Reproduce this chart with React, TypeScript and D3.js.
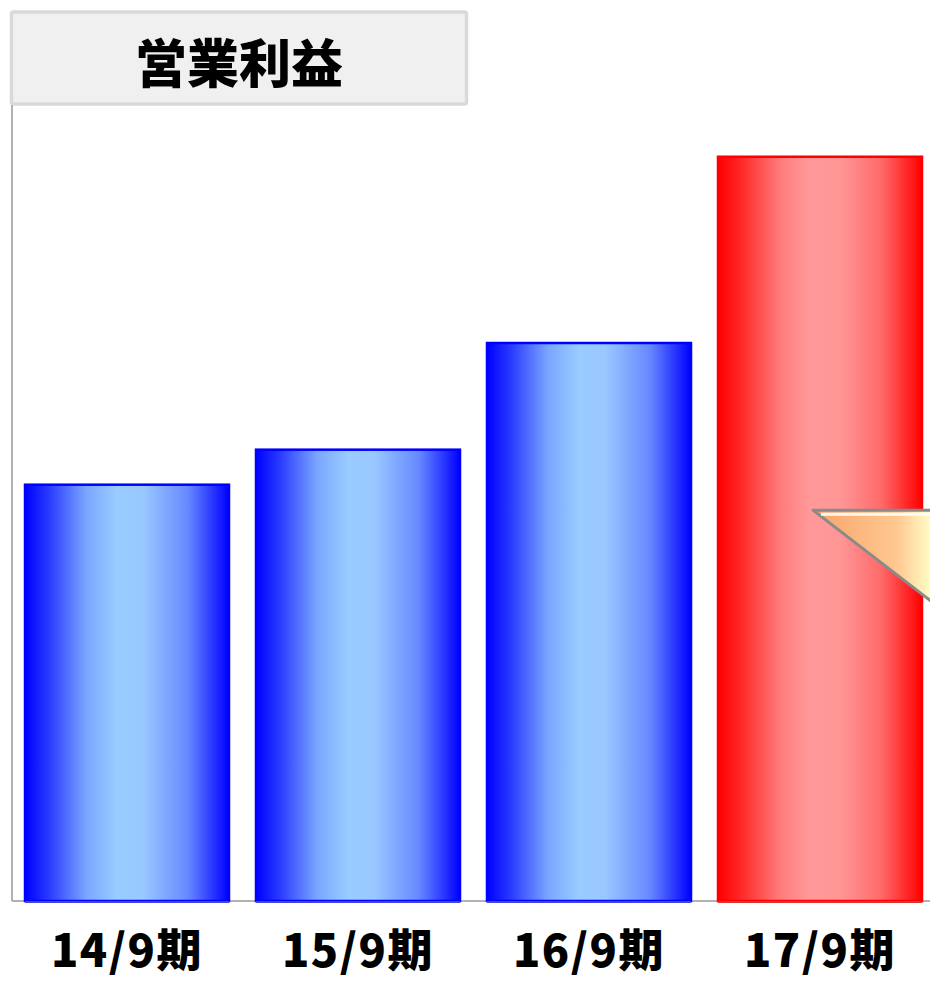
import React from "react";
import * as d3 from "d3";

const categories = ["14/9期", "15/9期", "16/9期", "17/9期"];
const values = [52.3, 56.7, 70.1, 93.5];
const highlight = [false, false, false, true];
const title = "営業利益";

const W = 930;
const H = 982;
const left = 12;
const right = 935;
const top = 105;
const bottom = 901;

export default function App() {
  const x = d3
    .scaleBand<string>()
    .domain(categories)
    .range([left, right])
    .paddingInner(27 / 231)
    .paddingOuter(13 / 231);
  const y = d3.scaleLinear().domain([0, 100]).range([bottom, top]);

  const last = categories[categories.length - 1];
  const ax = (x(last) as number) + 95;
  const ay = y(49.1);
  const arrowPath = d3.path();
  arrowPath.moveTo(ax, ay);
  arrowPath.lineTo(ax + 140, ay);
  arrowPath.lineTo(ax + 140, ay + 108);
  arrowPath.closePath();

  const font = "'Noto Sans CJK JP', 'Noto Sans', sans-serif";

  return (
    <svg
      width={W}
      height={H}
      style={{ position: "absolute", left: 0, top: 0, background: "#fff" }}
    >
      <defs>
        <linearGradient id="gBlue" x1="0" x2="1" y1="0" y2="0">
          <stop offset="0" stopColor="#0000ff" />
          <stop offset="0.12" stopColor="#2a3cff" />
          <stop offset="0.3" stopColor="#7aa6ff" />
          <stop offset="0.45" stopColor="#99ccff" />
          <stop offset="0.58" stopColor="#99c8ff" />
          <stop offset="0.8" stopColor="#6688ff" />
          <stop offset="1" stopColor="#0000ff" />
        </linearGradient>
        <linearGradient id="gRed" x1="0" x2="1" y1="0" y2="0">
          <stop offset="0" stopColor="#ff0000" />
          <stop offset="0.12" stopColor="#ff2a2a" />
          <stop offset="0.3" stopColor="#ff7a7a" />
          <stop offset="0.45" stopColor="#ff9999" />
          <stop offset="0.6" stopColor="#ff9696" />
          <stop offset="0.8" stopColor="#ff6a6a" />
          <stop offset="1" stopColor="#ff0000" />
        </linearGradient>
        <linearGradient id="gArrow" x1="0" x2="1" y1="0" y2="0">
          <stop offset="0" stopColor="#f7a46a" />
          <stop offset="0.6" stopColor="#ffc890" />
          <stop offset="0.85" stopColor="#ffffc8" />
          <stop offset="1" stopColor="#ffffd0" />
        </linearGradient>
        <clipPath id="clipAll">
          <rect x={0} y={0} width={W} height={H} />
        </clipPath>
      </defs>

      {/* title box */}
      <rect
        x={11.5}
        y={12}
        width={455}
        height={92}
        fill="#f0f0f0"
        stroke="#d9d9d9"
        strokeWidth={3.5}
        rx={2}
      />
      <text
        x={239}
        y={83}
        textAnchor="middle"
        fontFamily={font}
        fontWeight={900}
        fontSize={52}
        fill="#000"
      >
        {title}
      </text>

      {/* axis lines */}
      <line x1={left} x2={left} y1={top} y2={bottom} stroke="#999" strokeWidth={1.5} />
      <line x1={left} x2={W} y1={bottom} y2={bottom} stroke="#999" strokeWidth={1.5} />

      {/* bars */}
      {categories.map((c, i) => {
        const bx = x(c) as number;
        const bw = x.bandwidth();
        const by = y(values[i]);
        const hl = highlight[i];
        return (
          <g key={c}>
            <rect
              x={bx}
              y={by}
              width={bw}
              height={bottom - by}
              fill={hl ? "url(#gRed)" : "url(#gBlue)"}
              stroke={hl ? "#ff0000" : "#0000ff"}
              strokeWidth={2.5}
            />
            <line
              x1={bx}
              x2={bx + bw}
              y1={bottom + 1}
              y2={bottom + 1}
              stroke={hl ? "#dd3333" : "#4444dd"}
              strokeWidth={2}
            />
          </g>
        );
      })}

      {/* decorative arrow */}
      <g clipPath="url(#clipAll)">
        <path
          d={arrowPath.toString()}
          fill="url(#gArrow)"
          stroke="#8a8a8a"
          strokeWidth={3}
          strokeLinejoin="round"
        />
        <line
          x1={ax + 8}
          x2={ax + 140}
          y1={ay + 4}
          y2={ay + 4}
          stroke="#ffffff"
          strokeWidth={3}
          opacity={0.9}
        />
      </g>

      {/* category labels */}
      {categories.map((c) => (
        <text
          key={c}
          x={(x(c) as number) + x.bandwidth() / 2}
          y={967}
          textAnchor="middle"
          fontFamily={font}
          fontWeight={900}
          fontSize={45}
          letterSpacing={1.5}
          fill="#000"
        >
          {c}
        </text>
      ))}
    </svg>
  );
}
